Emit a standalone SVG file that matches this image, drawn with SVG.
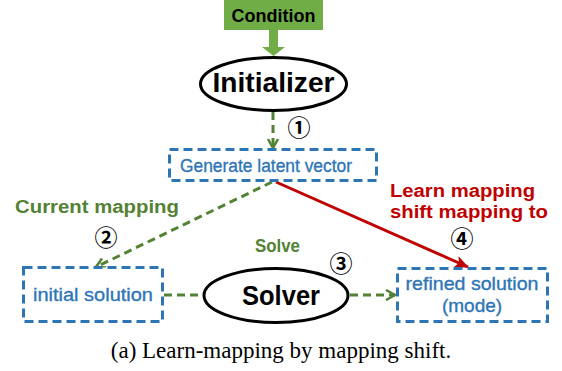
<svg xmlns="http://www.w3.org/2000/svg" width="562" height="371" viewBox="0 0 562 371">
<style>
.box{fill:#fff;stroke:#2E75B6;stroke-width:3;stroke-dasharray:9 5}
.ell{fill:#fff;stroke:#000;stroke-width:3}
.btxt{font-family:"Liberation Sans",Arial,sans-serif;font-size:19px;fill:#2E75B6;stroke:#2E75B6;stroke-width:0.35;text-anchor:middle}
.big{font-family:"Liberation Sans",Arial,sans-serif;font-weight:bold;font-size:27px;fill:#000;text-anchor:middle}
.gdash{fill:none;stroke:#548235;stroke-width:3;stroke-dasharray:8 5}
.lblg{font-family:"Liberation Sans",Arial,sans-serif;font-weight:bold;font-size:18px;fill:#548235}
.lblr{font-family:"Liberation Sans",Arial,sans-serif;font-weight:bold;font-size:18px;fill:#C00000}
.num{font-family:"Noto Sans CJK SC","DejaVu Sans",sans-serif;font-weight:bold;font-size:23px;fill:#000;text-anchor:middle}
</style>
<defs>
<marker id="ga" viewBox="0 0 12 12" refX="10" refY="6" markerWidth="12" markerHeight="12" markerUnits="userSpaceOnUse" orient="auto">
<path d="M1,1 L10,6 L1,11" fill="none" stroke="#548235" stroke-width="2.5"/>
</marker>
<marker id="ra" viewBox="0 0 14 12" refX="13" refY="6" markerWidth="14" markerHeight="12" markerUnits="userSpaceOnUse" orient="auto">
<path d="M0,0 L14,6 L0,12 L3,6 Z" fill="#C00000"/>
</marker>
</defs>
<g id="connectors">
<path d="M269,30 V47 H262 L273.5,56 L285,47 H278 V30 Z" fill="#70AD47"/>
<line class="gdash" x1="273" y1="112" x2="273" y2="148" marker-end="url(#ga)"/>
<line class="gdash" x1="272" y1="182" x2="96" y2="267" marker-end="url(#ga)"/>
<line x1="276" y1="182" x2="468" y2="267" stroke="#C00000" stroke-width="3" marker-end="url(#ra)"/>
<line class="gdash" x1="164" y1="295" x2="205" y2="295"/>
<line class="gdash" x1="350" y1="295" x2="395" y2="295" marker-end="url(#ga)"/>
</g>
<g id="condition">
<rect x="224" y="0" width="99" height="30" fill="#70AD47"/>
<text x="273.5" y="21.5" font-family="Liberation Sans,Arial,sans-serif" font-weight="bold" font-size="18" text-anchor="middle" textLength="84" lengthAdjust="spacingAndGlyphs">Condition</text>
</g>
<g id="initializer">
<ellipse class="ell" cx="273.5" cy="84" rx="73" ry="26.5"/>
<text class="big" x="273.5" y="92" textLength="122" lengthAdjust="spacingAndGlyphs">Initializer</text>
</g>
<g id="generate">
<rect class="box" x="169.5" y="149.5" width="207" height="31"/>
<text class="btxt" x="266" y="172" textLength="172" lengthAdjust="spacingAndGlyphs">Generate latent vector</text>
</g>
<g id="initial">
<rect class="box" x="23.5" y="267.5" width="139" height="54"/>
<text class="btxt" x="93" y="301" textLength="120" lengthAdjust="spacingAndGlyphs">initial solution</text>
</g>
<g id="solver">
<ellipse class="ell" cx="276" cy="295.5" rx="72" ry="27"/>
<text class="big" x="281" y="305" textLength="78" lengthAdjust="spacingAndGlyphs">Solver</text>
</g>
<g id="refined">
<rect class="box" x="397.5" y="268.5" width="150" height="53"/>
<text class="btxt" x="472" y="290" textLength="133" lengthAdjust="spacingAndGlyphs">refined solution</text>
<text class="btxt" x="472" y="312">(mode)</text>
</g>
<g id="labels">
<text class="lblg" x="15" y="213" textLength="164" lengthAdjust="spacingAndGlyphs">Current mapping</text>
<text class="lblg" x="255" y="252" textLength="45" lengthAdjust="spacingAndGlyphs">Solve</text>
<text class="lblr" x="390" y="197" textLength="145" lengthAdjust="spacingAndGlyphs">Learn mapping</text>
<text class="lblr" x="390" y="218" textLength="158" lengthAdjust="spacingAndGlyphs">shift mapping to</text>
<text class="num" x="299" y="136">①</text>
<text class="num" x="106" y="246">②</text>
<text class="num" x="341" y="272">③</text>
<text class="num" x="462" y="247">④</text>
</g>
<text x="281" y="358" font-family="Liberation Serif,Times New Roman,serif" font-size="23" text-anchor="middle">(a) Learn-mapping by mapping shift.</text>
</svg>
